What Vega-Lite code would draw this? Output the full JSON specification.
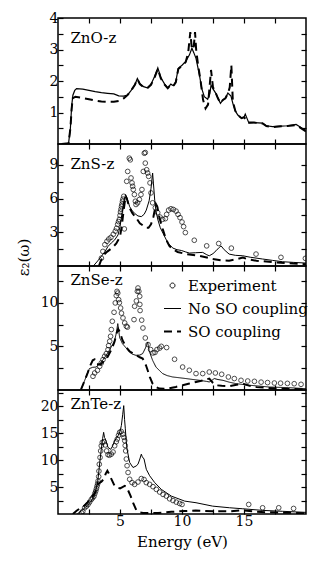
{
"$schema":"https://vega.github.io/schema/vega-lite/v6.json",
"padding":{"left":15,"top":10,"right":5,"bottom":5},
"background":"white",
"bounds":"flush",
"spacing":0,
"datasets":{
"ZnO":[
{"s":"No SO coupling","e":0.3,"v":0},{"s":"No SO coupling","e":0.85,"v":0.02},{"s":"No SO coupling","e":1.0,"v":0.5},{"s":"No SO coupling","e":1.1,"v":1.2},{"s":"No SO coupling","e":1.2,"v":1.55},{"s":"No SO coupling","e":1.35,"v":1.7},{"s":"No SO coupling","e":1.5,"v":1.76},{"s":"No SO coupling","e":2.0,"v":1.74},{"s":"No SO coupling","e":2.5,"v":1.7},{"s":"No SO coupling","e":3.0,"v":1.66},{"s":"No SO coupling","e":3.5,"v":1.63},{"s":"No SO coupling","e":4.0,"v":1.61},{"s":"No SO coupling","e":4.5,"v":1.59},{"s":"No SO coupling","e":4.9,"v":1.53},{"s":"No SO coupling","e":5.3,"v":1.52},{"s":"No SO coupling","e":5.6,"v":1.55},{"s":"No SO coupling","e":5.9,"v":1.7},{"s":"No SO coupling","e":6.2,"v":1.88},{"s":"No SO coupling","e":6.4,"v":2.08},{"s":"No SO coupling","e":6.6,"v":1.92},{"s":"No SO coupling","e":6.9,"v":1.82},{"s":"No SO coupling","e":7.2,"v":1.78},{"s":"No SO coupling","e":7.5,"v":1.9},{"s":"No SO coupling","e":7.8,"v":2.15},{"s":"No SO coupling","e":8.05,"v":2.42},{"s":"No SO coupling","e":8.3,"v":2.1},{"s":"No SO coupling","e":8.6,"v":1.9},{"s":"No SO coupling","e":8.85,"v":1.78},{"s":"No SO coupling","e":9.1,"v":1.9},{"s":"No SO coupling","e":9.3,"v":1.85},{"s":"No SO coupling","e":9.5,"v":1.98},{"s":"No SO coupling","e":9.7,"v":2.4},{"s":"No SO coupling","e":10.0,"v":2.5},{"s":"No SO coupling","e":10.3,"v":2.62},{"s":"No SO coupling","e":10.6,"v":2.83},{"s":"No SO coupling","e":10.8,"v":3.04},{"s":"No SO coupling","e":10.95,"v":2.9},{"s":"No SO coupling","e":11.13,"v":2.72},{"s":"No SO coupling","e":11.4,"v":2.2},{"s":"No SO coupling","e":11.6,"v":1.75},{"s":"No SO coupling","e":11.8,"v":1.5},{"s":"No SO coupling","e":12.07,"v":1.42},{"s":"No SO coupling","e":12.25,"v":1.6},{"s":"No SO coupling","e":12.34,"v":1.87},{"s":"No SO coupling","e":12.5,"v":1.75},{"s":"No SO coupling","e":12.74,"v":1.6},{"s":"No SO coupling","e":12.9,"v":1.45},{"s":"No SO coupling","e":13.1,"v":1.29},{"s":"No SO coupling","e":13.3,"v":1.4},{"s":"No SO coupling","e":13.5,"v":1.45},{"s":"No SO coupling","e":13.7,"v":1.62},{"s":"No SO coupling","e":13.95,"v":1.52},{"s":"No SO coupling","e":14.1,"v":1.29},{"s":"No SO coupling","e":14.3,"v":1.05},{"s":"No SO coupling","e":14.5,"v":0.92},{"s":"No SO coupling","e":14.8,"v":0.82},{"s":"No SO coupling","e":15.0,"v":0.85},{"s":"No SO coupling","e":15.1,"v":0.95},{"s":"No SO coupling","e":15.4,"v":0.66},{"s":"No SO coupling","e":15.8,"v":0.68},{"s":"No SO coupling","e":16.5,"v":0.66},{"s":"No SO coupling","e":16.8,"v":0.58},{"s":"No SO coupling","e":17.3,"v":0.55},{"s":"No SO coupling","e":18.0,"v":0.57},{"s":"No SO coupling","e":18.5,"v":0.58},{"s":"No SO coupling","e":19.2,"v":0.62},{"s":"No SO coupling","e":19.5,"v":0.55},{"s":"No SO coupling","e":20,"v":0.42},
{"s":"SO coupling","e":0.3,"v":0},{"s":"SO coupling","e":0.85,"v":0.02},{"s":"SO coupling","e":1.0,"v":0.5},{"s":"SO coupling","e":1.1,"v":1.1},{"s":"SO coupling","e":1.18,"v":1.45},{"s":"SO coupling","e":1.4,"v":1.5},{"s":"SO coupling","e":2.0,"v":1.46},{"s":"SO coupling","e":2.5,"v":1.42},{"s":"SO coupling","e":3.0,"v":1.38},{"s":"SO coupling","e":3.5,"v":1.35},{"s":"SO coupling","e":3.9,"v":1.34},{"s":"SO coupling","e":4.5,"v":1.34},{"s":"SO coupling","e":4.95,"v":1.37},{"s":"SO coupling","e":5.3,"v":1.45},{"s":"SO coupling","e":5.6,"v":1.55},{"s":"SO coupling","e":5.9,"v":1.7},{"s":"SO coupling","e":6.2,"v":1.88},{"s":"SO coupling","e":6.4,"v":2.06},{"s":"SO coupling","e":6.6,"v":1.9},{"s":"SO coupling","e":6.9,"v":1.8},{"s":"SO coupling","e":7.2,"v":1.77},{"s":"SO coupling","e":7.5,"v":1.88},{"s":"SO coupling","e":7.8,"v":2.12},{"s":"SO coupling","e":8.05,"v":2.38},{"s":"SO coupling","e":8.3,"v":2.08},{"s":"SO coupling","e":8.6,"v":1.88},{"s":"SO coupling","e":8.85,"v":1.77},{"s":"SO coupling","e":9.1,"v":1.88},{"s":"SO coupling","e":9.3,"v":1.84},{"s":"SO coupling","e":9.5,"v":1.96},{"s":"SO coupling","e":9.7,"v":2.38},{"s":"SO coupling","e":10.0,"v":2.48},{"s":"SO coupling","e":10.3,"v":2.6},{"s":"SO coupling","e":10.5,"v":2.9},{"s":"SO coupling","e":10.67,"v":3.55},{"s":"SO coupling","e":10.8,"v":3.0},{"s":"SO coupling","e":10.95,"v":3.1},{"s":"SO coupling","e":11.05,"v":3.55},{"s":"SO coupling","e":11.15,"v":2.95},{"s":"SO coupling","e":11.3,"v":2.5},{"s":"SO coupling","e":11.5,"v":2.0},{"s":"SO coupling","e":11.7,"v":1.4},{"s":"SO coupling","e":11.9,"v":1.13},{"s":"SO coupling","e":12.1,"v":1.25},{"s":"SO coupling","e":12.34,"v":2.35},{"s":"SO coupling","e":12.5,"v":1.8},{"s":"SO coupling","e":12.74,"v":1.6},{"s":"SO coupling","e":12.9,"v":1.45},{"s":"SO coupling","e":13.1,"v":1.3},{"s":"SO coupling","e":13.3,"v":1.4},{"s":"SO coupling","e":13.5,"v":1.45},{"s":"SO coupling","e":13.7,"v":1.6},{"s":"SO coupling","e":13.85,"v":1.8},{"s":"SO coupling","e":13.98,"v":2.5},{"s":"SO coupling","e":14.1,"v":1.35},{"s":"SO coupling","e":14.3,"v":1.05},{"s":"SO coupling","e":14.5,"v":0.92},{"s":"SO coupling","e":14.8,"v":0.82},{"s":"SO coupling","e":15.0,"v":0.85},{"s":"SO coupling","e":15.4,"v":0.68},{"s":"SO coupling","e":15.8,"v":0.68},{"s":"SO coupling","e":16.5,"v":0.65},{"s":"SO coupling","e":16.8,"v":0.57},{"s":"SO coupling","e":17.3,"v":0.54},{"s":"SO coupling","e":18,"v":0.56},{"s":"SO coupling","e":18.5,"v":0.57},{"s":"SO coupling","e":19.2,"v":0.6},{"s":"SO coupling","e":19.5,"v":0.53},{"s":"SO coupling","e":20,"v":0.4}
],
"ZnS":[
{"s":"Experiment","e":3.5,"v":0.7},{"s":"Experiment","e":3.62,"v":1.3},{"s":"Experiment","e":3.78,"v":1.9},{"s":"Experiment","e":3.95,"v":2.2},{"s":"Experiment","e":4.1,"v":2.4},{"s":"Experiment","e":4.27,"v":2.55},{"s":"Experiment","e":4.46,"v":2.82},{"s":"Experiment","e":4.62,"v":3.1},{"s":"Experiment","e":4.72,"v":3.35},{"s":"Experiment","e":4.81,"v":3.71},{"s":"Experiment","e":4.88,"v":3.95},{"s":"Experiment","e":4.95,"v":4.15},{"s":"Experiment","e":5.0,"v":4.5},{"s":"Experiment","e":5.04,"v":4.8},{"s":"Experiment","e":5.08,"v":5.05},{"s":"Experiment","e":5.12,"v":5.3},{"s":"Experiment","e":5.16,"v":5.5},{"s":"Experiment","e":5.2,"v":5.75},{"s":"Experiment","e":5.24,"v":5.95},{"s":"Experiment","e":5.3,"v":6.2},{"s":"Experiment","e":5.35,"v":3.3},{"s":"Experiment","e":5.54,"v":7.53},{"s":"Experiment","e":5.62,"v":8.41},{"s":"Experiment","e":5.75,"v":9.59},{"s":"Experiment","e":5.83,"v":9.44},{"s":"Experiment","e":5.89,"v":7.83},{"s":"Experiment","e":5.97,"v":7.39},{"s":"Experiment","e":6.02,"v":7.09},{"s":"Experiment","e":6.07,"v":6.8},{"s":"Experiment","e":6.16,"v":6.35},{"s":"Experiment","e":6.24,"v":5.76},{"s":"Experiment","e":6.29,"v":5.47},{"s":"Experiment","e":6.42,"v":5.62},{"s":"Experiment","e":6.56,"v":5.91},{"s":"Experiment","e":6.69,"v":6.35},{"s":"Experiment","e":6.77,"v":6.8},{"s":"Experiment","e":6.88,"v":8.41},{"s":"Experiment","e":6.96,"v":10.03},{"s":"Experiment","e":7.04,"v":10.09},{"s":"Experiment","e":7.04,"v":9.15},{"s":"Experiment","e":7.15,"v":8.56},{"s":"Experiment","e":7.23,"v":8.27},{"s":"Experiment","e":7.31,"v":7.97},{"s":"Experiment","e":7.42,"v":7.39},{"s":"Experiment","e":7.5,"v":6.5},{"s":"Experiment","e":7.63,"v":5.62},{"s":"Experiment","e":7.85,"v":5.18},{"s":"Experiment","e":8.04,"v":4.74},{"s":"Experiment","e":8.23,"v":4.35},{"s":"Experiment","e":8.44,"v":4.15},{"s":"Experiment","e":8.66,"v":4.21},{"s":"Experiment","e":8.76,"v":4.59},{"s":"Experiment","e":8.92,"v":4.97},{"s":"Experiment","e":9.11,"v":5.09},{"s":"Experiment","e":9.3,"v":5.03},{"s":"Experiment","e":9.52,"v":4.88},{"s":"Experiment","e":9.68,"v":4.59},{"s":"Experiment","e":9.84,"v":4.3},{"s":"Experiment","e":10.0,"v":3.91},{"s":"Experiment","e":10.13,"v":3.5},{"s":"Experiment","e":10.27,"v":2.97},{"s":"Experiment","e":10.99,"v":2.29},{"s":"Experiment","e":11.99,"v":1.79},{"s":"Experiment","e":12.96,"v":2.0},{"s":"Experiment","e":13.98,"v":1.59},{"s":"Experiment","e":15.97,"v":1.06},{"s":"Experiment","e":17.98,"v":0.77},{"s":"Experiment","e":19.95,"v":0.68},
{"s":"No SO coupling","e":2.85,"v":0},{"s":"No SO coupling","e":3.2,"v":0.45},{"s":"No SO coupling","e":3.5,"v":0.86},{"s":"No SO coupling","e":3.8,"v":1.3},{"s":"No SO coupling","e":4.03,"v":1.74},{"s":"No SO coupling","e":4.3,"v":2.05},{"s":"No SO coupling","e":4.57,"v":2.32},{"s":"No SO coupling","e":4.84,"v":2.76},{"s":"No SO coupling","e":5.0,"v":3.5},{"s":"No SO coupling","e":5.15,"v":4.6},{"s":"No SO coupling","e":5.3,"v":5.7},{"s":"No SO coupling","e":5.45,"v":6.35},{"s":"No SO coupling","e":5.55,"v":6.1},{"s":"No SO coupling","e":5.78,"v":5.27},{"s":"No SO coupling","e":6.0,"v":4.9},{"s":"No SO coupling","e":6.18,"v":4.68},{"s":"No SO coupling","e":6.45,"v":4.45},{"s":"No SO coupling","e":6.72,"v":4.39},{"s":"No SO coupling","e":6.95,"v":4.6},{"s":"No SO coupling","e":7.12,"v":4.97},{"s":"No SO coupling","e":7.35,"v":5.8},{"s":"No SO coupling","e":7.5,"v":6.9},{"s":"No SO coupling","e":7.63,"v":8.27},{"s":"No SO coupling","e":7.7,"v":7.3},{"s":"No SO coupling","e":7.8,"v":5.85},{"s":"No SO coupling","e":7.9,"v":4.9},{"s":"No SO coupling","e":8.06,"v":4.09},{"s":"No SO coupling","e":8.25,"v":3.4},{"s":"No SO coupling","e":8.47,"v":2.91},{"s":"No SO coupling","e":8.7,"v":2.4},{"s":"No SO coupling","e":8.87,"v":2.03},{"s":"No SO coupling","e":9.27,"v":1.59},{"s":"No SO coupling","e":9.6,"v":1.45},{"s":"No SO coupling","e":9.95,"v":1.38},{"s":"No SO coupling","e":10.3,"v":1.25},{"s":"No SO coupling","e":10.6,"v":1.15},{"s":"No SO coupling","e":11.1,"v":1.18},{"s":"No SO coupling","e":11.67,"v":1.21},{"s":"No SO coupling","e":12.0,"v":1.0},{"s":"No SO coupling","e":12.2,"v":0.91},{"s":"No SO coupling","e":12.5,"v":1.1},{"s":"No SO coupling","e":12.74,"v":1.35},{"s":"No SO coupling","e":13.0,"v":1.65},{"s":"No SO coupling","e":13.15,"v":1.79},{"s":"No SO coupling","e":13.4,"v":1.45},{"s":"No SO coupling","e":13.8,"v":1.06},{"s":"No SO coupling","e":14.3,"v":0.95},{"s":"No SO coupling","e":14.9,"v":0.91},{"s":"No SO coupling","e":15.5,"v":0.78},{"s":"No SO coupling","e":16.5,"v":0.62},{"s":"No SO coupling","e":17.3,"v":0.5},{"s":"No SO coupling","e":18.1,"v":0.38},{"s":"No SO coupling","e":19,"v":0.32},{"s":"No SO coupling","e":20,"v":0.26},
{"s":"SO coupling","e":3.3,"v":0},{"s":"SO coupling","e":3.47,"v":0.5},{"s":"SO coupling","e":3.7,"v":1.0},{"s":"SO coupling","e":4.0,"v":1.3},{"s":"SO coupling","e":4.41,"v":1.65},{"s":"SO coupling","e":4.7,"v":2.0},{"s":"SO coupling","e":5.0,"v":2.6},{"s":"SO coupling","e":5.15,"v":3.6},{"s":"SO coupling","e":5.3,"v":5.0},{"s":"SO coupling","e":5.45,"v":6.2},{"s":"SO coupling","e":5.55,"v":6.0},{"s":"SO coupling","e":5.75,"v":5.2},{"s":"SO coupling","e":6.0,"v":4.7},{"s":"SO coupling","e":6.29,"v":4.3},{"s":"SO coupling","e":6.6,"v":3.8},{"s":"SO coupling","e":7.1,"v":3.4},{"s":"SO coupling","e":7.3,"v":3.4},{"s":"SO coupling","e":7.5,"v":3.7},{"s":"SO coupling","e":7.7,"v":4.4},{"s":"SO coupling","e":7.9,"v":5.5},{"s":"SO coupling","e":8.0,"v":5.3},{"s":"SO coupling","e":8.2,"v":4.2},{"s":"SO coupling","e":8.44,"v":3.3},{"s":"SO coupling","e":8.7,"v":2.4},{"s":"SO coupling","e":8.98,"v":1.79},{"s":"SO coupling","e":9.3,"v":1.45},{"s":"SO coupling","e":9.65,"v":1.25},{"s":"SO coupling","e":10.32,"v":1.06},{"s":"SO coupling","e":11.4,"v":0.91},{"s":"SO coupling","e":12.0,"v":0.75},{"s":"SO coupling","e":12.47,"v":0.62},{"s":"SO coupling","e":13.2,"v":0.5},{"s":"SO coupling","e":13.8,"v":0.47},{"s":"SO coupling","e":14.4,"v":0.6},{"s":"SO coupling","e":14.9,"v":0.76},{"s":"SO coupling","e":15.3,"v":0.6},{"s":"SO coupling","e":16,"v":0.47},{"s":"SO coupling","e":17.6,"v":0.32},{"s":"SO coupling","e":20,"v":0.15}
],
"ZnSe":[
{"s":"Experiment","e":2.82,"v":1.57},{"s":"Experiment","e":2.96,"v":1.95},{"s":"Experiment","e":3.18,"v":2.25},{"s":"Experiment","e":3.36,"v":2.71},{"s":"Experiment","e":3.49,"v":3.1},{"s":"Experiment","e":3.63,"v":3.48},{"s":"Experiment","e":3.76,"v":3.86},{"s":"Experiment","e":3.9,"v":4.17},{"s":"Experiment","e":4.03,"v":4.62},{"s":"Experiment","e":4.08,"v":5.08},{"s":"Experiment","e":4.17,"v":5.58},{"s":"Experiment","e":4.24,"v":6.15},{"s":"Experiment","e":4.3,"v":6.92},{"s":"Experiment","e":4.38,"v":7.87},{"s":"Experiment","e":4.52,"v":8.9},{"s":"Experiment","e":4.62,"v":9.97},{"s":"Experiment","e":4.7,"v":10.81},{"s":"Experiment","e":4.76,"v":11.3},{"s":"Experiment","e":4.82,"v":11.1},{"s":"Experiment","e":4.89,"v":10.35},{"s":"Experiment","e":4.95,"v":10.0},{"s":"Experiment","e":5.05,"v":9.39},{"s":"Experiment","e":5.12,"v":8.8},{"s":"Experiment","e":5.24,"v":8.25},{"s":"Experiment","e":5.38,"v":7.68},{"s":"Experiment","e":5.51,"v":7.3},{"s":"Experiment","e":5.6,"v":7.2},{"s":"Experiment","e":6.13,"v":8.06},{"s":"Experiment","e":6.18,"v":9.59},{"s":"Experiment","e":6.32,"v":10.2},{"s":"Experiment","e":6.4,"v":11.3},{"s":"Experiment","e":6.45,"v":11.68},{"s":"Experiment","e":6.52,"v":11.3},{"s":"Experiment","e":6.59,"v":10.73},{"s":"Experiment","e":6.6,"v":9.8},{"s":"Experiment","e":6.62,"v":9.1},{"s":"Experiment","e":6.75,"v":8.0},{"s":"Experiment","e":6.85,"v":7.1},{"s":"Experiment","e":7.04,"v":5.96},{"s":"Experiment","e":7.26,"v":5.2},{"s":"Experiment","e":7.47,"v":4.63},{"s":"Experiment","e":7.66,"v":4.24},{"s":"Experiment","e":7.82,"v":4.3},{"s":"Experiment","e":7.98,"v":4.63},{"s":"Experiment","e":8.2,"v":4.8},{"s":"Experiment","e":8.33,"v":5.0},{"s":"Experiment","e":8.76,"v":4.86},{"s":"Experiment","e":9.4,"v":3.52},{"s":"Experiment","e":10.05,"v":2.63},{"s":"Experiment","e":10.59,"v":2.26},{"s":"Experiment","e":11.13,"v":1.88},{"s":"Experiment","e":11.67,"v":1.88},{"s":"Experiment","e":12.2,"v":2.06},{"s":"Experiment","e":12.69,"v":1.95},{"s":"Experiment","e":13.2,"v":1.8},{"s":"Experiment","e":13.74,"v":1.49},{"s":"Experiment","e":14.22,"v":1.31},{"s":"Experiment","e":14.76,"v":1.11},{"s":"Experiment","e":15.3,"v":1.03},{"s":"Experiment","e":15.84,"v":0.99},{"s":"Experiment","e":16.38,"v":0.9},{"s":"Experiment","e":16.9,"v":0.85},{"s":"Experiment","e":17.45,"v":0.8},{"s":"Experiment","e":17.95,"v":0.78},{"s":"Experiment","e":18.5,"v":0.76},{"s":"Experiment","e":19.05,"v":0.72},{"s":"Experiment","e":19.6,"v":0.65},
{"s":"No SO coupling","e":1.85,"v":0},{"s":"No SO coupling","e":2.26,"v":1.49},{"s":"No SO coupling","e":2.53,"v":2.45},{"s":"No SO coupling","e":2.8,"v":2.6},{"s":"No SO coupling","e":3.06,"v":2.63},{"s":"No SO coupling","e":3.3,"v":2.9},{"s":"No SO coupling","e":3.6,"v":3.4},{"s":"No SO coupling","e":3.9,"v":4.0},{"s":"No SO coupling","e":4.14,"v":4.55},{"s":"No SO coupling","e":4.4,"v":5.2},{"s":"No SO coupling","e":4.54,"v":5.5},{"s":"No SO coupling","e":4.7,"v":6.5},{"s":"No SO coupling","e":4.82,"v":7.6},{"s":"No SO coupling","e":4.9,"v":6.8},{"s":"No SO coupling","e":4.97,"v":6.0},{"s":"No SO coupling","e":5.2,"v":5.3},{"s":"No SO coupling","e":5.5,"v":4.8},{"s":"No SO coupling","e":5.75,"v":4.35},{"s":"No SO coupling","e":6.0,"v":4.1},{"s":"No SO coupling","e":6.29,"v":3.97},{"s":"No SO coupling","e":6.6,"v":4.0},{"s":"No SO coupling","e":6.83,"v":4.17},{"s":"No SO coupling","e":7.05,"v":4.8},{"s":"No SO coupling","e":7.23,"v":5.5},{"s":"No SO coupling","e":7.35,"v":4.5},{"s":"No SO coupling","e":7.5,"v":3.9},{"s":"No SO coupling","e":7.63,"v":3.4},{"s":"No SO coupling","e":7.9,"v":2.63},{"s":"No SO coupling","e":8.2,"v":2.2},{"s":"No SO coupling","e":8.44,"v":1.88},{"s":"No SO coupling","e":8.8,"v":1.65},{"s":"No SO coupling","e":9.25,"v":1.49},{"s":"No SO coupling","e":9.8,"v":1.4},{"s":"No SO coupling","e":10.32,"v":1.31},{"s":"No SO coupling","e":10.9,"v":1.2},{"s":"No SO coupling","e":11.4,"v":1.11},{"s":"No SO coupling","e":12.0,"v":0.98},{"s":"No SO coupling","e":12.2,"v":0.92},{"s":"No SO coupling","e":12.4,"v":1.1},{"s":"No SO coupling","e":12.6,"v":1.31},{"s":"No SO coupling","e":12.9,"v":1.2},{"s":"No SO coupling","e":13.3,"v":1.11},{"s":"No SO coupling","e":13.8,"v":0.9},{"s":"No SO coupling","e":14.35,"v":0.73},{"s":"No SO coupling","e":15.4,"v":0.55},{"s":"No SO coupling","e":16.2,"v":0.45},{"s":"No SO coupling","e":17.04,"v":0.34},{"s":"No SO coupling","e":18.6,"v":0.27},{"s":"No SO coupling","e":20,"v":0.15},
{"s":"SO coupling","e":1.85,"v":0.05},{"s":"SO coupling","e":2.1,"v":0.9},{"s":"SO coupling","e":2.4,"v":2.0},{"s":"SO coupling","e":2.6,"v":2.8},{"s":"SO coupling","e":2.8,"v":3.4},{"s":"SO coupling","e":2.95,"v":3.5},{"s":"SO coupling","e":3.1,"v":3.0},{"s":"SO coupling","e":3.4,"v":2.9},{"s":"SO coupling","e":3.7,"v":3.3},{"s":"SO coupling","e":4.0,"v":3.8},{"s":"SO coupling","e":4.3,"v":4.6},{"s":"SO coupling","e":4.55,"v":5.5},{"s":"SO coupling","e":4.75,"v":6.6},{"s":"SO coupling","e":4.85,"v":7.0},{"s":"SO coupling","e":5.0,"v":6.6},{"s":"SO coupling","e":5.2,"v":5.7},{"s":"SO coupling","e":5.5,"v":4.9},{"s":"SO coupling","e":5.8,"v":4.4},{"s":"SO coupling","e":6.29,"v":4.0},{"s":"SO coupling","e":6.6,"v":3.75},{"s":"SO coupling","e":6.83,"v":3.6},{"s":"SO coupling","e":6.94,"v":3.3},{"s":"SO coupling","e":7.1,"v":2.8},{"s":"SO coupling","e":7.23,"v":2.26},{"s":"SO coupling","e":7.4,"v":1.5},{"s":"SO coupling","e":7.63,"v":0.73},{"s":"SO coupling","e":7.9,"v":0.35},{"s":"SO coupling","e":8.17,"v":0.16},{"s":"SO coupling","e":8.6,"v":0.15},{"s":"SO coupling","e":8.98,"v":0.2},{"s":"SO coupling","e":9.5,"v":0.35},{"s":"SO coupling","e":10.05,"v":0.54},{"s":"SO coupling","e":10.6,"v":0.75},{"s":"SO coupling","e":11.13,"v":0.92},{"s":"SO coupling","e":11.7,"v":1.1},{"s":"SO coupling","e":12.2,"v":1.31},{"s":"SO coupling","e":12.5,"v":0.8},{"s":"SO coupling","e":12.7,"v":0.55},{"s":"SO coupling","e":13.2,"v":0.48},{"s":"SO coupling","e":13.8,"v":0.44},{"s":"SO coupling","e":14.4,"v":0.6},{"s":"SO coupling","e":14.9,"v":0.73},{"s":"SO coupling","e":15.4,"v":0.5},{"s":"SO coupling","e":16,"v":0.34},{"s":"SO coupling","e":17.9,"v":0.15},{"s":"SO coupling","e":20,"v":0.08}
],
"ZnTe":[
{"s":"Experiment","e":1.9,"v":0.2},{"s":"Experiment","e":2.0,"v":0.5},{"s":"Experiment","e":2.15,"v":1.15},{"s":"Experiment","e":2.3,"v":1.45},{"s":"Experiment","e":2.42,"v":1.77},{"s":"Experiment","e":2.55,"v":2.2},{"s":"Experiment","e":2.69,"v":2.7},{"s":"Experiment","e":2.8,"v":3.0},{"s":"Experiment","e":2.9,"v":3.3},{"s":"Experiment","e":2.97,"v":3.8},{"s":"Experiment","e":3.04,"v":4.25},{"s":"Experiment","e":3.1,"v":4.7},{"s":"Experiment","e":3.15,"v":5.18},{"s":"Experiment","e":3.2,"v":5.6},{"s":"Experiment","e":3.23,"v":6.1},{"s":"Experiment","e":3.28,"v":6.93},{"s":"Experiment","e":3.3,"v":7.96},{"s":"Experiment","e":3.33,"v":9.23},{"s":"Experiment","e":3.39,"v":10.48},{"s":"Experiment","e":3.44,"v":11.7},{"s":"Experiment","e":3.49,"v":12.65},{"s":"Experiment","e":3.57,"v":13.28},{"s":"Experiment","e":3.71,"v":13.4},{"s":"Experiment","e":3.82,"v":12.8},{"s":"Experiment","e":3.92,"v":11.7},{"s":"Experiment","e":4.03,"v":11.0},{"s":"Experiment","e":4.15,"v":10.9},{"s":"Experiment","e":4.3,"v":11.1},{"s":"Experiment","e":4.44,"v":11.5},{"s":"Experiment","e":4.57,"v":12.65},{"s":"Experiment","e":4.7,"v":13.4},{"s":"Experiment","e":4.78,"v":13.9},{"s":"Experiment","e":4.88,"v":14.6},{"s":"Experiment","e":4.97,"v":15.15},{"s":"Experiment","e":5.1,"v":15.3},{"s":"Experiment","e":5.24,"v":14.8},{"s":"Experiment","e":5.32,"v":14.2},{"s":"Experiment","e":5.38,"v":13.6},{"s":"Experiment","e":5.42,"v":12.7},{"s":"Experiment","e":5.46,"v":11.7},{"s":"Experiment","e":5.51,"v":10.2},{"s":"Experiment","e":5.57,"v":8.95},{"s":"Experiment","e":5.65,"v":7.7},{"s":"Experiment","e":5.78,"v":6.44},{"s":"Experiment","e":5.97,"v":5.82},{"s":"Experiment","e":6.18,"v":5.5},{"s":"Experiment","e":6.45,"v":5.93},{"s":"Experiment","e":6.72,"v":6.57},{"s":"Experiment","e":6.94,"v":6.4},{"s":"Experiment","e":7.12,"v":5.82},{"s":"Experiment","e":7.39,"v":5.5},{"s":"Experiment","e":7.66,"v":5.07},{"s":"Experiment","e":7.93,"v":4.57},{"s":"Experiment","e":8.2,"v":4.07},{"s":"Experiment","e":8.47,"v":3.63},{"s":"Experiment","e":8.74,"v":3.32},{"s":"Experiment","e":9.0,"v":2.82},{"s":"Experiment","e":9.27,"v":2.5},{"s":"Experiment","e":9.54,"v":2.2},{"s":"Experiment","e":9.81,"v":1.95},{"s":"Experiment","e":10.0,"v":1.77},{"s":"Experiment","e":15.38,"v":1.77},{"s":"Experiment","e":16.5,"v":1.15},{"s":"Experiment","e":17.8,"v":1.15},{"s":"Experiment","e":19.0,"v":1.03},
{"s":"No SO coupling","e":1.55,"v":0},{"s":"No SO coupling","e":1.9,"v":0.6},{"s":"No SO coupling","e":2.2,"v":1.2},{"s":"No SO coupling","e":2.45,"v":1.8},{"s":"No SO coupling","e":2.69,"v":2.4},{"s":"No SO coupling","e":2.9,"v":3.3},{"s":"No SO coupling","e":3.09,"v":4.8},{"s":"No SO coupling","e":3.2,"v":6.0},{"s":"No SO coupling","e":3.28,"v":7.6},{"s":"No SO coupling","e":3.38,"v":9.8},{"s":"No SO coupling","e":3.49,"v":12.0},{"s":"No SO coupling","e":3.6,"v":14.0},{"s":"No SO coupling","e":3.68,"v":15.15},{"s":"No SO coupling","e":3.75,"v":14.2},{"s":"No SO coupling","e":3.82,"v":13.9},{"s":"No SO coupling","e":4.03,"v":12.35},{"s":"No SO coupling","e":4.25,"v":12.0},{"s":"No SO coupling","e":4.4,"v":12.6},{"s":"No SO coupling","e":4.57,"v":13.6},{"s":"No SO coupling","e":4.84,"v":14.5},{"s":"No SO coupling","e":5.0,"v":15.3},{"s":"No SO coupling","e":5.11,"v":16.4},{"s":"No SO coupling","e":5.22,"v":18.5},{"s":"No SO coupling","e":5.3,"v":20.1},{"s":"No SO coupling","e":5.37,"v":17.5},{"s":"No SO coupling","e":5.43,"v":15.8},{"s":"No SO coupling","e":5.5,"v":13.5},{"s":"No SO coupling","e":5.57,"v":12.0},{"s":"No SO coupling","e":5.78,"v":9.55},{"s":"No SO coupling","e":6.05,"v":8.62},{"s":"No SO coupling","e":6.3,"v":8.9},{"s":"No SO coupling","e":6.45,"v":9.23},{"s":"No SO coupling","e":6.6,"v":10.2},{"s":"No SO coupling","e":6.72,"v":11.1},{"s":"No SO coupling","e":6.8,"v":10.6},{"s":"No SO coupling","e":6.94,"v":10.2},{"s":"No SO coupling","e":7.12,"v":8.3},{"s":"No SO coupling","e":7.39,"v":7.1},{"s":"No SO coupling","e":7.8,"v":5.82},{"s":"No SO coupling","e":8.33,"v":4.57},{"s":"No SO coupling","e":9.14,"v":3.32},{"s":"No SO coupling","e":10.22,"v":2.39},{"s":"No SO coupling","e":11.13,"v":2.09},{"s":"No SO coupling","e":12.47,"v":1.46},{"s":"No SO coupling","e":13.82,"v":1.16},{"s":"No SO coupling","e":14.9,"v":0.97},{"s":"No SO coupling","e":16.5,"v":0.67},{"s":"No SO coupling","e":18.1,"v":0.5},{"s":"No SO coupling","e":20,"v":0.3},
{"s":"SO coupling","e":1.2,"v":0},{"s":"SO coupling","e":1.5,"v":0.6},{"s":"SO coupling","e":1.8,"v":1.1},{"s":"SO coupling","e":2.1,"v":1.5},{"s":"SO coupling","e":2.4,"v":2.2},{"s":"SO coupling","e":2.7,"v":3.0},{"s":"SO coupling","e":3.0,"v":4.0},{"s":"SO coupling","e":3.23,"v":5.6},{"s":"SO coupling","e":3.5,"v":6.0},{"s":"SO coupling","e":3.7,"v":6.5},{"s":"SO coupling","e":3.85,"v":7.5},{"s":"SO coupling","e":3.98,"v":8.0},{"s":"SO coupling","e":4.1,"v":7.5},{"s":"SO coupling","e":4.3,"v":6.5},{"s":"SO coupling","e":4.57,"v":5.2},{"s":"SO coupling","e":4.8,"v":4.9},{"s":"SO coupling","e":5.0,"v":4.75},{"s":"SO coupling","e":5.2,"v":5.0},{"s":"SO coupling","e":5.38,"v":5.2},{"s":"SO coupling","e":5.55,"v":5.0},{"s":"SO coupling","e":5.65,"v":4.4},{"s":"SO coupling","e":5.86,"v":3.32},{"s":"SO coupling","e":6.05,"v":2.1},{"s":"SO coupling","e":6.32,"v":0.7},{"s":"SO coupling","e":6.6,"v":0.3},{"s":"SO coupling","e":6.86,"v":0.2},{"s":"SO coupling","e":8.07,"v":0.2},{"s":"SO coupling","e":9.14,"v":0.4},{"s":"SO coupling","e":10.22,"v":0.55},{"s":"SO coupling","e":11.1,"v":0.65},{"s":"SO coupling","e":12.5,"v":0.5},{"s":"SO coupling","e":13.8,"v":0.5},{"s":"SO coupling","e":14.9,"v":0.7},{"s":"SO coupling","e":16,"v":0.4},{"s":"SO coupling","e":18,"v":0.25},{"s":"SO coupling","e":20,"v":0.15}
]
},
"vconcat":[
{
"width":248,"height":126,"data":{"name":"ZnO"},
"layer":[
{"transform":[{"filter":"datum.s==='SO coupling'"}],"mark":{"type":"line","color":"black","strokeWidth":2,"strokeDash":[8,5],"clip":true},
"encoding":{"x":{"field":"e","type":"quantitative","scale":{"domain":[0,20],"nice":false,"zero":false},"axis":{"orient":"bottom","values":[2.5,5,7.5,10,12.5,15,17.5],"labels":false,"title":null}},
"y":{"field":"v","type":"quantitative","scale":{"domain":[0,4],"nice":false},"axis":{"orient":"left","values":[0.5,1,1.5,2,2.5,3,3.5,4],"labelExpr":"datum.value % 1 === 0 ? format(datum.value, 'd') : ''","title":null}}}},
{"transform":[{"filter":"datum.s==='No SO coupling'"}],"mark":{"type":"line","color":"black","strokeWidth":1.2,"clip":true},
"encoding":{"x":{"field":"e","type":"quantitative","axis":{"orient":"top","values":[2.5,5,7.5,10,12.5,15,17.5],"labels":false,"title":null}},
"y":{"field":"v","type":"quantitative","axis":{"orient":"right","values":[0.5,1,1.5,2,2.5,3,3.5],"labels":false,"title":null}}}},
{"data":{"values":[{"label":"ZnO-z"}]},"mark":{"type":"text","align":"left","baseline":"alphabetic","font":"DejaVu Serif","fontSize":15,"color":"black"},
"encoding":{"x":{"datum":1.0,"type":"quantitative","axis":null},"y":{"datum":3.2,"type":"quantitative","axis":null},"text":{"field":"label"}}}
],
"resolve":{"axis":{"x":"independent","y":"independent"}}
},
{
"width":248,"height":122,"data":{"name":"ZnS"},
"layer":[
{"transform":[{"filter":"datum.s==='SO coupling'"}],"mark":{"type":"line","color":"black","strokeWidth":2,"strokeDash":[8,5],"clip":true},
"encoding":{"x":{"field":"e","type":"quantitative","scale":{"domain":[0,20],"nice":false,"zero":false},"axis":{"orient":"bottom","values":[2.5,5,7.5,10,12.5,15,17.5],"labels":false,"title":null}},
"y":{"field":"v","type":"quantitative","scale":{"domain":[0,10.85],"nice":false},"axis":{"orient":"left","values":[1.5,3,4.5,6,7.5,9],"labelExpr":"datum.value % 3 === 0 ? format(datum.value, 'd') : ''","title":"ε₂(ω)","titleX":-35,"titleY":113,"titleAngle":-90,"titleAlign":"center","titleBaseline":"middle"}}}},
{"transform":[{"filter":"datum.s==='No SO coupling'"}],"mark":{"type":"line","color":"black","strokeWidth":1,"clip":true},
"encoding":{"x":{"field":"e","type":"quantitative","axis":{"orient":"top","values":[2.5,5,7.5,10,12.5,15,17.5],"labels":false,"title":null}},
"y":{"field":"v","type":"quantitative","axis":{"orient":"right","values":[1.5,3,4.5,6,7.5,9],"labels":false,"title":null}}}},
{"transform":[{"filter":"datum.s==='Experiment'"}],"mark":{"type":"point","shape":"circle","size":22,"filled":false,"color":"black","strokeWidth":1,"clip":true},
"encoding":{"x":{"field":"e","type":"quantitative","axis":null},"y":{"field":"v","type":"quantitative","axis":null}}},
{"data":{"values":[{"label":"ZnS-z"}]},"mark":{"type":"text","align":"left","baseline":"alphabetic","font":"DejaVu Serif","fontSize":15,"color":"black"},
"encoding":{"x":{"datum":1.0,"type":"quantitative","axis":null},"y":{"datum":8.65,"type":"quantitative","axis":null},"text":{"field":"label"}}}
],
"resolve":{"axis":{"x":"independent","y":"independent"}}
},
{
"width":248,"height":124,"data":{"name":"ZnSe"},
"layer":[
{"transform":[{"filter":"datum.s==='SO coupling'"}],"mark":{"type":"line","color":"black","strokeWidth":2,"clip":true},
"encoding":{"x":{"field":"e","type":"quantitative","scale":{"domain":[0,20],"nice":false,"zero":false},"axis":{"orient":"bottom","values":[2.5,5,7.5,10,12.5,15,17.5],"labels":false,"title":null}},
"y":{"field":"v","type":"quantitative","scale":{"domain":[0,14.2],"nice":false},"axis":{"orient":"left","values":[2.5,5,7.5,10,12.5],"labelExpr":"datum.value % 5 === 0 ? format(datum.value, 'd') : ''","title":null}},
"strokeDash":{"field":"s","type":"nominal","scale":{"domain":["Experiment","No SO coupling","SO coupling"],"range":[[1,0],[1,0],[8,5]]},
"legend":{"orient":"none","legendX":107,"legendY":12,"title":null,"padding":0,"symbolType":"stroke","symbolSize":289,"symbolStrokeColor":"black","labelFont":"DejaVu Serif","labelFontSize":15,"labelColor":"black","labelOffset":8,"rowPadding":7,
"encode":{"symbols":{"update":{"shape":{"signal":"datum.value === 'Experiment' ? 'circle' : 'stroke'"},"size":{"signal":"datum.value === 'Experiment' ? 24 : 289"},"strokeWidth":{"signal":"datum.value === 'SO coupling' ? 2.2 : 1"},"stroke":{"value":"black"},"fill":{"value":"transparent"}}}}}}}},
{"transform":[{"filter":"datum.s==='No SO coupling'"}],"mark":{"type":"line","color":"black","strokeWidth":1,"clip":true},
"encoding":{"x":{"field":"e","type":"quantitative","axis":{"orient":"top","values":[2.5,5,7.5,10,12.5,15,17.5],"labels":false,"title":null}},
"y":{"field":"v","type":"quantitative","axis":{"orient":"right","values":[2.5,5,7.5,10,12.5],"labels":false,"title":null}},
"strokeDash":{"field":"s","type":"nominal"}}},
{"transform":[{"filter":"datum.s==='Experiment'"}],"mark":{"type":"point","shape":"circle","size":22,"filled":false,"color":"black","strokeWidth":1,"clip":true},
"encoding":{"x":{"field":"e","type":"quantitative","axis":null},"y":{"field":"v","type":"quantitative","axis":null}}},
{"data":{"values":[{"label":"ZnSe-z"}]},"mark":{"type":"text","align":"left","baseline":"alphabetic","font":"DejaVu Serif","fontSize":15,"color":"black"},
"encoding":{"x":{"datum":1.0,"type":"quantitative","axis":null},"y":{"datum":12.0,"type":"quantitative","axis":null},"text":{"field":"label"}}}
],
"resolve":{"axis":{"x":"independent","y":"independent"}}
},
{
"width":248,"height":124,"data":{"name":"ZnTe"},
"layer":[
{"transform":[{"filter":"datum.s==='SO coupling'"}],"mark":{"type":"line","color":"black","strokeWidth":2,"strokeDash":[8,5],"clip":true},
"encoding":{"x":{"field":"e","type":"quantitative","scale":{"domain":[0,20],"nice":false,"zero":false},"axis":{"orient":"bottom","values":[2.5,5,7.5,10,12.5,15,17.5],"labelExpr":"datum.value % 5 === 0 ? format(datum.value, 'd') : ''","title":"Energy (eV)","titlePadding":6,"titleFontWeight":"normal"}},
"y":{"field":"v","type":"quantitative","scale":{"domain":[0,23],"nice":false},"axis":{"orient":"left","values":[2.5,5,7.5,10,12.5,15,17.5,20,22.5],"labelExpr":"datum.value % 5 === 0 ? format(datum.value, 'd') : ''","title":null}}}},
{"transform":[{"filter":"datum.s==='No SO coupling'"}],"mark":{"type":"line","color":"black","strokeWidth":1,"clip":true},
"encoding":{"x":{"field":"e","type":"quantitative","axis":{"orient":"top","values":[2.5,5,7.5,10,12.5,15,17.5],"labels":false,"title":null}},
"y":{"field":"v","type":"quantitative","axis":{"orient":"right","values":[2.5,5,7.5,10,12.5,15,17.5,20,22.5],"labels":false,"title":null}}}},
{"transform":[{"filter":"datum.s==='Experiment'"}],"mark":{"type":"point","shape":"circle","size":22,"filled":false,"color":"black","strokeWidth":1,"clip":true},
"encoding":{"x":{"field":"e","type":"quantitative","axis":null},"y":{"field":"v","type":"quantitative","axis":null}}},
{"data":{"values":[{"label":"ZnTe-z"}]},"mark":{"type":"text","align":"left","baseline":"alphabetic","font":"DejaVu Serif","fontSize":15,"color":"black"},
"encoding":{"x":{"datum":1.0,"type":"quantitative","axis":null},"y":{"datum":19.4,"type":"quantitative","axis":null},"text":{"field":"label"}}}
],
"resolve":{"axis":{"x":"independent","y":"independent"}}
}
],
"resolve":{"scale":{"strokeDash":"independent"},"legend":{"strokeDash":"independent"}},
"config":{
"font":"DejaVu Serif",
"view":{"stroke":"black","strokeWidth":1.5},
"axis":{"domain":false,"grid":false,"tickSize":-5,"tickColor":"black","tickWidth":1.2,"labelFont":"DejaVu Serif","labelFontSize":14,"labelColor":"black","labelPadding":5,"labelFlush":false,"labelOverlap":false,"labelBound":false,"titleFont":"DejaVu Serif","titleFontSize":15,"titleFontWeight":"normal","titleColor":"black"}
}
}
